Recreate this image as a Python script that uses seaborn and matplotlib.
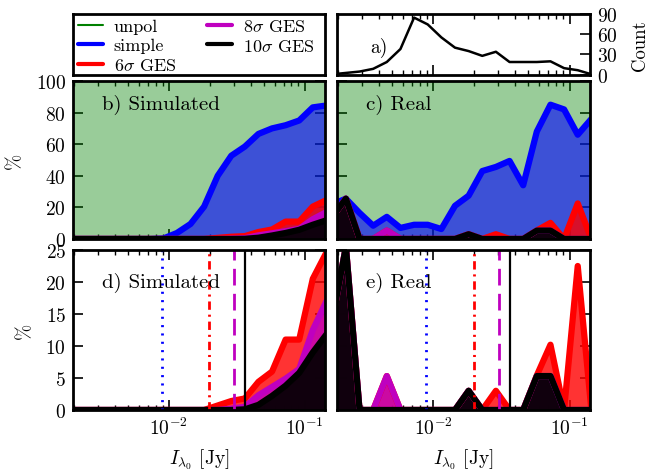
import numpy as np
import seaborn as sns
import matplotlib.pyplot as plt
from matplotlib.lines import Line2D
from matplotlib.ticker import NullFormatter

# bin centres, log10(I / Jy)
log_flux = [-2.74, -2.64, -2.54, -2.44, -2.34, -2.24, -2.14, -2.04, -1.94, -1.84,
            -1.74, -1.64, -1.54, -1.44, -1.34, -1.24, -1.14, -1.04, -0.94, -0.84]

# a) number of sources per bin
counts = [1, 3, 5, 9, 19, 38, 84, 74, 55, 40, 35, 28, 34, 19, 19, 19, 20, 10, 7, 1]

# simulated percentages
sim_unpol = [100] * 20
sim_simple = [0, 0, 0, 0, 0, 0, 0, 0.3, 3.8, 9.5, 20.5, 40, 52.7, 58.5, 66.5, 70, 72, 75, 83.3, 84.5]
sim_ges6 = [0, 0, 0, 0, 0, 0, 0, 0, 0, 0, 0, 0.7, 1.4, 1.8, 4.4, 6.0, 11.0, 11.0, 20.5, 24.6]
sim_ges8 = [0, 0, 0, 0, 0, 0, 0, 0, 0, 0, 0, 0, 0.2, 0.5, 2.3, 3.6, 4.9, 6.4, 12.5, 17.0]
sim_ges10 = [0, 0, 0, 0, 0, 0, 0, 0, 0, 0, 0, 0, 0, 0.1, 0.8, 2.2, 3.8, 5.8, 9.0, 11.8]

# real percentages
real_unpol = [100] * 20
real_simple = [22, 25.5, 16.5, 8.4, 14, 7, 9, 9, 6.3, 21, 27.4, 43, 45.6, 49.4, 34, 68, 85, 82, 66, 76]
real_ges6 = [14, 25.5, 0, 0, 5.3, 0, 0, 0, 0, 0, 3.0, 0, 3.0, 0, 0, 5.4, 10.2, 0, 22.5, 0]
real_ges8 = [14, 25.5, 0, 0, 5.3, 0, 0, 0, 0, 0, 3.0, 0, 0, 0, 0, 5.3, 5.3, 0, 0, 0]
real_ges10 = [14, 25.5, 0, 0, 0, 0, 0, 0, 0, 0, 3.0, 0, 0, 0, 0, 5.3, 5.3, 0, 0, 0]

# detection limits drawn in d) and e)
limit_flux = [0.0089, 0.0199, 0.0302, 0.0365]

labels = ['unpol', 'simple', r'$6\sigma$ GES', r'$8\sigma$ GES', r'$10\sigma$ GES']
xtick_vals = [0.01, 0.1]
xtick_labels = [r'$10^{-2}$', r'$10^{-1}$']

sns.set_style('ticks')
plt.rcParams['font.family'] = ['cmr10', 'DejaVu Serif']
plt.rcParams['mathtext.fontset'] = 'cm'
plt.rcParams['axes.unicode_minus'] = False
plt.rcParams['axes.formatter.use_mathtext'] = True
plt.rcParams['lines.scale_dashes'] = False
for key in ['text.color', 'axes.labelcolor', 'xtick.color', 'ytick.color']:
    plt.rcParams[key] = 'k'

flux = 10 ** np.array(log_flux)
xlim = (10 ** -2.705, 10 ** -0.85)
colors = ['g', 'b', 'r', 'm', 'k']
alphas = [0.4, 0.6, 0.8, 0.8, 0.92]
limit_styles = [(0, (1.5, 4.5)), (0, (6, 3.5, 1.5, 3.5)), (0, (12, 6)), '-']
limit_colors = ['b', 'r', 'm', 'k']


def style_axis(ax):
    ax.set_xscale('log')
    ax.set_xlim(xlim)
    ax.set_xticks(xtick_vals, xtick_labels)
    ax.xaxis.set_minor_formatter(NullFormatter())
    for s in ax.spines.values():
        s.set_linewidth(2)
        s.set_color('k')
    ax.tick_params(which='both', direction='in', top=True, bottom=True,
                   left=True, right=True, labelsize=14, color='k')
    ax.tick_params(which='major', length=7, width=1.2, pad=5)
    ax.tick_params(which='minor', length=3.5, width=1)


def draw_fractions(ax, series, first):
    for vals, c, a in list(zip(series, colors, alphas))[first:]:
        ax.fill_between(flux, 0, vals, color=c, alpha=a, lw=0)
        if c != 'g':
            sns.lineplot(x=flux, y=vals, ax=ax, color=c, lw=4.5)


fig = plt.figure(figsize=(6.49, 4.77), dpi=100)
ax_leg = fig.add_axes([0.1125, 0.8407, 0.3883, 0.1289])
ax_a = fig.add_axes([0.5193, 0.8407, 0.3898, 0.1289])
ax_b = fig.add_axes([0.1125, 0.4969, 0.3883, 0.3312])
ax_c = fig.add_axes([0.5193, 0.4969, 0.3898, 0.3312])
ax_d = fig.add_axes([0.1125, 0.1384, 0.3883, 0.3354])
ax_e = fig.add_axes([0.5193, 0.1384, 0.3898, 0.3354])

# legend panel
for s in ax_leg.spines.values():
    s.set_linewidth(2)
    s.set_color('k')
ax_leg.set_xticks([])
ax_leg.set_yticks([])
handles = [Line2D([], [], color=c, lw=(1.5 if c == 'g' else 3)) for c in colors]
ax_leg.legend(handles, labels, ncol=2, loc='upper left', bbox_to_anchor=(0.0, 1.0),
              frameon=False, fontsize=13, handlelength=1.4, handletextpad=0.6,
              columnspacing=1.7, labelspacing=0.2, borderaxespad=0.1, borderpad=0.15)

# a) counts
style_axis(ax_a)
sns.lineplot(x=flux, y=counts, ax=ax_a, color='k', lw=1.8)
ax_a.set_ylim(0, 90)
ax_a.set_yticks([0, 30, 60, 90])
ax_a.tick_params(which='both', left=False, labelleft=False, labelright=True,
                 labelbottom=False)
ax_a.yaxis.set_label_position('right')
ax_a.set_ylabel('Count', fontsize=13.5, labelpad=10)
ax_a.text(0.13, 0.45, 'a)', transform=ax_a.transAxes, fontsize=14, va='center')

# b), c) full range
sim = [sim_unpol, sim_simple, sim_ges6, sim_ges8, sim_ges10]
real = [real_unpol, real_simple, real_ges6, real_ges8, real_ges10]
for ax, data, name in [(ax_b, sim, 'b) Simulated'), (ax_c, real, 'c) Real')]:
    style_axis(ax)
    draw_fractions(ax, data, 0)
    ax.set_ylim(0, 100)
    ax.set_yticks([0, 20, 40, 60, 80, 100])
    ax.tick_params(labelbottom=False)
    ax.text(0.114, 0.855, name, transform=ax.transAxes, fontsize=15, va='center')

# d), e) zoom on the GES detections
for ax, data, name in [(ax_d, sim, 'd) Simulated'), (ax_e, real, 'e) Real')]:
    style_axis(ax)
    draw_fractions(ax, data, 2)
    for xv, ls, c in zip(limit_flux, limit_styles, limit_colors):
        ax.axvline(xv, color=c, ls=ls, lw=2 if c != 'k' else 1.6)
    ax.set_ylim(0, 25)
    ax.set_yticks([0, 5, 10, 15, 20, 25])
    ax.set_xlabel(r'$I_{\lambda_0}$ [Jy]', fontsize=14, labelpad=6)
    ax.text(0.114, 0.8, name, transform=ax.transAxes, fontsize=15, va='center')

for ax in [ax_c, ax_e]:
    ax.tick_params(labelleft=False)
for ax in [ax_b, ax_d]:
    ax.set_ylabel('%', fontsize=14, labelpad=8)

fig.savefig('out.png', dpi=100)
